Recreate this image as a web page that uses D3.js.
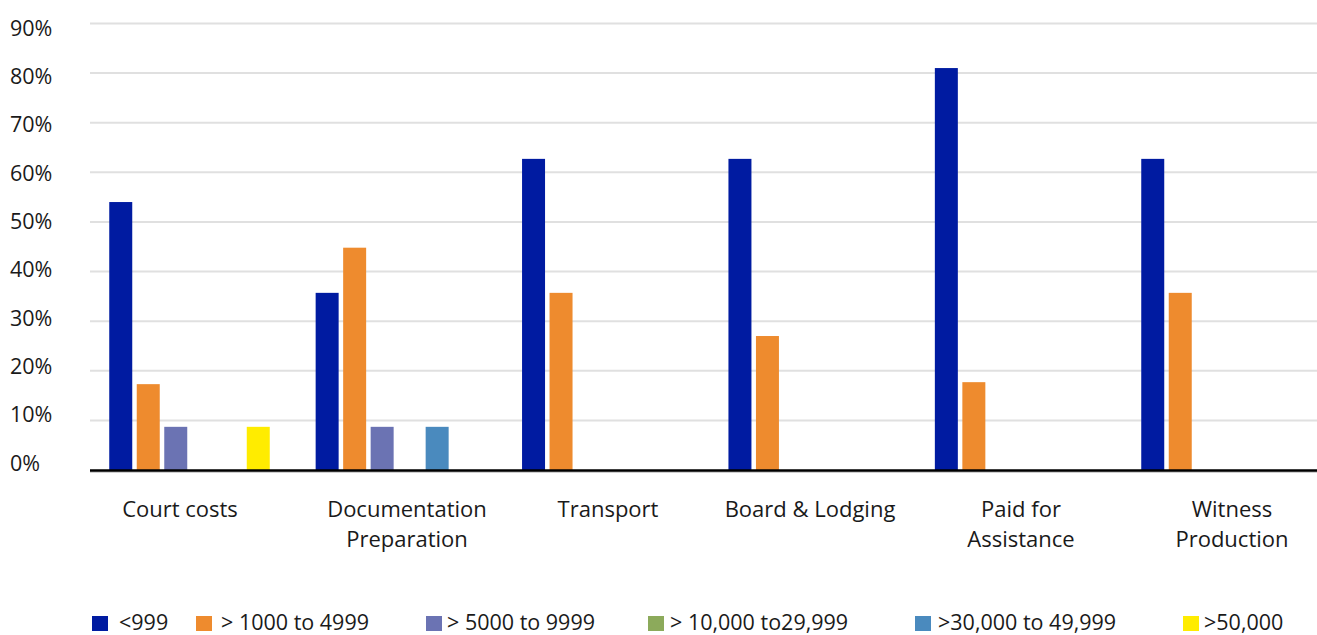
<!DOCTYPE html>
<html>
<head>
<meta charset="utf-8">
<script src="https://cdn.jsdelivr.net/npm/d3@7/dist/d3.min.js"></script>
<style>
  html, body { margin: 0; padding: 0; background: #fff; }
  svg { display: block; font-family: "Open Sans", "Noto Sans", sans-serif; }
</style>
</head>
<body>
<svg id="chart" width="1317" height="635"></svg>
<script>
// Expense categories (line breaks mark the wrapped axis labels)
const categories = [
  "Court costs",
  "Documentation\nPreparation",
  "Transport",
  "Board & Lodging",
  "Paid for\nAssistance",
  "Witness\nProduction"
];

// Cost bands
const seriesNames = [
  "<999",
  "> 1000 to 4999",
  "> 5000 to 9999",
  "> 10,000 to29,999",
  ">30,000 to 49,999",
  ">50,000"
];

// Share of respondents (%) per band, one value per category
const under999      = [54.0, 35.7, 62.7, 62.7, 81.0, 62.7];
const from1000      = [17.3, 44.8, 35.7, 27.0, 17.7, 35.7];
const from5000      = [ 8.7,  8.7,  0,    0,    0,    0  ];
const from10000     = [ 0,    0,    0,    0,    0,    0  ];
const from30000     = [ 0,    8.7,  0,    0,    0,    0  ];
const over50000     = [ 8.7,  0,    0,    0,    0,    0  ];

const seriesValues = [under999, from1000, from5000, from10000, from30000, over50000];

const yTicks = [0, 10, 20, 30, 40, 50, 60, 70, 80, 90];

const colors = ["#001ba1", "#ee8b2e", "#6b73b3", "#8caa5b", "#4a8abe", "#ffec00"];

// Layout: category label centres, legend swatch left edges and text starts
const categoryLabelX = [180, 407, 608, 810, 1021, 1232];
const legendSwatchX = [92, 196, 426, 648, 915, 1183];
const legendTextX   = [119, 221, 447, 670, 938, 1204];

const svg = d3.select("#chart");
const W = 1317;

const plotLeft = 90, plotRight = W;

const y = d3.scaleLinear().domain([0, 90]).range([470, 23.4]);
const yLabel = d3.scaleLinear().domain([0, 90]).range([463, 28]);

const x0 = d3.scaleBand().domain(categories).range([86.3, 1324.7]).padding(0);
const groupWidth = 160.5;
const x1 = d3.scaleBand().domain(seriesNames).range([0, groupWidth]).paddingInner(0.164).paddingOuter(0);
const groupOffset = (x0.bandwidth() - groupWidth) / 2;

// Gridlines
svg.append("g")
  .selectAll("line")
  .data(yTicks.filter(d => d > 0))
  .join("line")
  .attr("x1", plotLeft).attr("x2", plotRight)
  .attr("y1", d => y(d)).attr("y2", d => y(d))
  .attr("stroke", "#e0e0e0")
  .attr("stroke-width", 2);

// Y tick labels
svg.append("g")
  .selectAll("text")
  .data(yTicks)
  .join("text")
  .attr("x", 10)
  .attr("y", d => yLabel(d))
  .attr("dy", "0.36em")
  .attr("font-size", 21.5)
  .attr("fill", "#1a1a1a")
  .text(d => d + "%");

// Bars
const rows = [];
categories.forEach((c, ci) => {
  seriesNames.forEach((s, si) => {
    rows.push({ cat: c, series: s, si, value: seriesValues[si][ci] });
  });
});

svg.append("g")
  .selectAll("rect")
  .data(rows.filter(d => d.value > 0))
  .join("rect")
  .attr("x", d => x0(d.cat) + groupOffset + x1(d.series))
  .attr("width", x1.bandwidth())
  .attr("y", d => y(d.value))
  .attr("height", d => y(0) - y(d.value))
  .attr("fill", d => colors[d.si]);

// Baseline
svg.append("line")
  .attr("x1", plotLeft).attr("x2", plotRight)
  .attr("y1", y(0) + 2).attr("y2", y(0) + 2)
  .attr("stroke", "#a0a0a0").attr("stroke-width", 1);
svg.append("line")
  .attr("x1", plotLeft).attr("x2", plotRight)
  .attr("y1", y(0) + 0.5).attr("y2", y(0) + 0.5)
  .attr("stroke", "#000").attr("stroke-width", 2.5);

// Category labels
const catLabels = svg.append("g")
  .selectAll("text")
  .data(categories.map((c, i) => ({ c, x: categoryLabelX[i] })))
  .join("text")
  .attr("x", d => d.x)
  .attr("y", 517)
  .attr("text-anchor", "middle")
  .attr("font-size", 22)
  .attr("fill", "#1a1a1a");

catLabels.selectAll("tspan")
  .data(d => d.c.split("\n").map(line => ({ line, x: d.x })))
  .join("tspan")
  .attr("x", d => d.x)
  .attr("dy", (d, i) => i === 0 ? 0 : 30)
  .text(d => d.line);

// Legend
const legend = svg.append("g");
seriesNames.forEach((name, i) => {
  legend.append("rect")
    .attr("x", legendSwatchX[i]).attr("y", 616)
    .attr("width", 16).attr("height", 15)
    .attr("fill", colors[i]);
  legend.append("text")
    .attr("x", legendTextX[i]).attr("y", 630)
    .attr("font-size", 21.5)
    .attr("fill", "#1a1a1a")
    .text(name);
});
</script>
</body>
</html>
